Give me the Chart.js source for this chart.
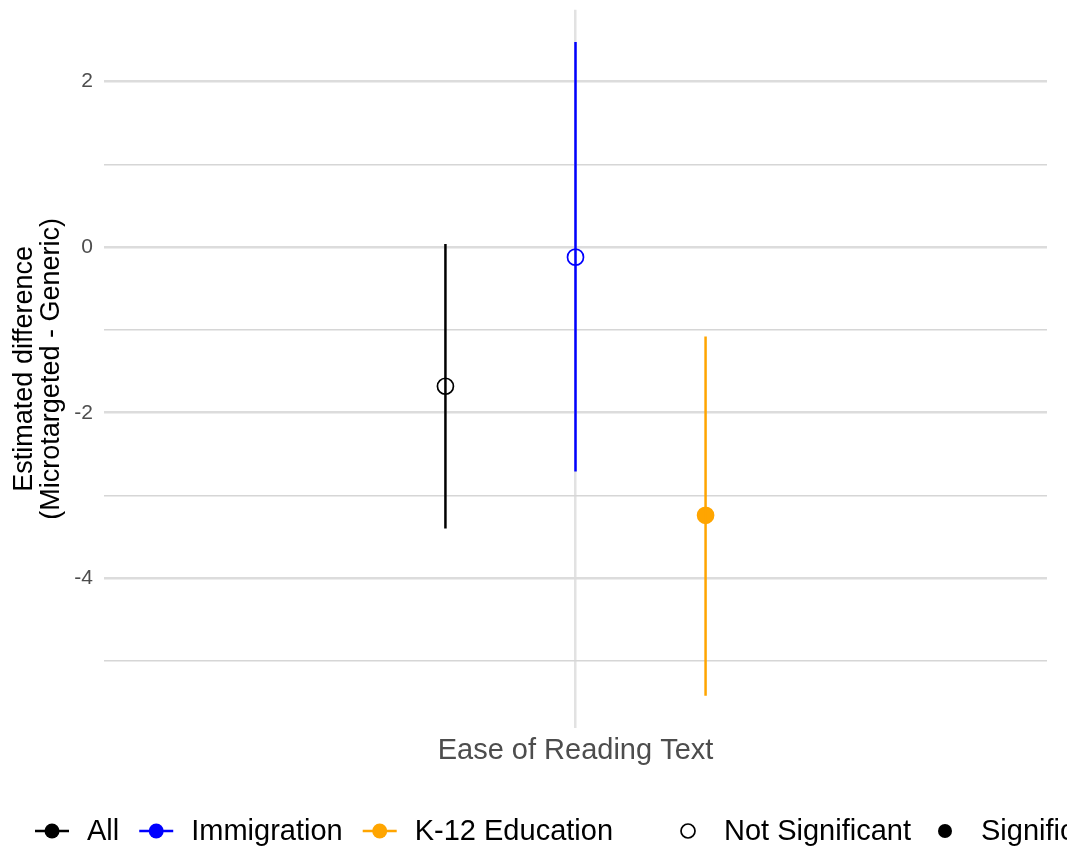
<!DOCTYPE html>
<html>
<head>
<meta charset="utf-8">
<script src="https://cdn.jsdelivr.net/npm/chart.js@4"></script>
<style>
  html, body { margin: 0; background: #fff; }
  #wrap { width: 1067px; height: 847px; }
</style>
</head>
<body>
<div id="wrap"><canvas id="c"></canvas></div>
<script>
// data
const groups = ['All', 'Immigration', 'K-12 Education'];
const groupColors = ['#000000', '#0000ff', '#ffa500'];
const dodge = [-0.2, 0, 0.2];
const estimates = [-1.68, -0.12, -3.24];
const lower = [-3.40, -2.71, -5.42];
const upper = [0.04, 2.48, -1.08];
const significant = [false, false, true];
const category = 'Ease of Reading Text';
const yTicks = [-5, -4, -3, -2, -1, 0, 1, 2];
const yLabels = ['-4', '-2', '0', '2'];
const sigLabels = ['Not Significant', 'Significant'];

const FONT = '"Liberation Sans", Arial, sans-serif';

const datasets = [];
for (let i = 0; i < groups.length; i++) {
    datasets.push({
        type: 'line',
        label: groups[i] + ' CI',
        data: [{x: dodge[i], y: lower[i]}, {x: dodge[i], y: upper[i]}],
        borderColor: groupColors[i],
        borderWidth: 2.5,
        pointRadius: 0,
        showLine: true
    });
}
for (let i = 0; i < groups.length; i++) {
    datasets.push({
        type: 'scatter',
        label: groups[i],
        data: [{x: dodge[i], y: estimates[i]}],
        pointRadius: 8,
        pointHoverRadius: 8,
        pointBackgroundColor: significant[i] ? groupColors[i] : 'rgba(255,255,255,0)',
        pointBorderColor: groupColors[i],
        pointBorderWidth: 1.7
    });
}

// legend drawn by hand, ggplot style, running off the right edge
const legendPlugin = {
    id: 'ggLegend',
    afterDraw(chart) {
        const ctx = chart.ctx;
        const y = 831;
        ctx.save();
        ctx.font = '29px ' + FONT;
        ctx.textBaseline = 'middle';
        let x = 35;
        for (let i = 0; i < groups.length; i++) {
            ctx.strokeStyle = groupColors[i];
            ctx.fillStyle = groupColors[i];
            ctx.lineWidth = 2.5;
            ctx.beginPath();
            ctx.moveTo(x, y);
            ctx.lineTo(x + 34, y);
            ctx.stroke();
            ctx.beginPath();
            ctx.arc(x + 17, y, 7.5, 0, Math.PI * 2);
            ctx.fill();
            ctx.fillStyle = '#000';
            ctx.fillText(groups[i], x + 52, y + 1);
            x += 52 + ctx.measureText(groups[i]).width + 20;
        }
        x += 55;
        ctx.fillStyle = '#000';
        for (let j = 0; j < sigLabels.length; j++) {
            ctx.beginPath();
            ctx.arc(x, y, 7, 0, Math.PI * 2);
            if (j === 1) {
                ctx.fill();
            } else {
                ctx.strokeStyle = '#000';
                ctx.lineWidth = 1.7;
                ctx.stroke();
            }
            ctx.fillText(sigLabels[j], x + 36, y + 1);
            x += 36 + ctx.measureText(sigLabels[j]).width + 34;
        }
        ctx.restore();
    }
};

new Chart(document.getElementById('c'), {
    type: 'scatter',
    data: {datasets: datasets},
    plugins: [legendPlugin],
    options: {
        responsive: true,
        maintainAspectRatio: false,
        animation: false,
        events: [],
        layout: {padding: {top: 8, right: 20, bottom: 70, left: 0}},
        plugins: {legend: {display: false}, tooltip: {enabled: false}},
        scales: {
            x: {
                type: 'linear',
                min: -0.725,
                max: 0.725,
                afterBuildTicks: s => { s.ticks = [{value: 0}]; },
                afterFit: s => { s.height = 49; s.paddingLeft = 0; s.paddingRight = 0; },
                ticks: {
                    callback: () => category,
                    font: {family: FONT, size: 29},
                    color: '#4d4d4d',
                    padding: 6,
                    maxRotation: 0
                },
                grid: {color: '#e2e2e2', lineWidth: 2.5, drawTicks: false},
                border: {display: false}
            },
            y: {
                min: -5.81,
                max: 2.87,
                afterBuildTicks: s => { s.ticks = yTicks.map(v => ({value: v})); },
                afterFit: s => { s.width = 104; s.paddingTop = 0; s.paddingBottom = 0; },
                ticks: {
                    callback: v => yLabels.includes(String(v)) ? String(v) : '',
                    font: {family: FONT, size: 21},
                    color: '#4d4d4d',
                    padding: 11
                },
                grid: {
                    color: c => (c.tick && c.tick.value % 2 === 0) ? '#dcdcdc' : '#d6d6d6',
                    lineWidth: c => (c.tick && c.tick.value % 2 === 0) ? 2.5 : 1.6,
                    drawTicks: false
                },
                border: {display: false},
                title: {
                    display: true,
                    text: ['Estimated difference', '(Microtargeted - Generic)'],
                    font: {family: FONT, size: 27, lineHeight: 1.0},
                    color: '#000',
                    padding: {top: 11, bottom: 0}
                }
            }
        }
    }
});
</script>
</body>
</html>
